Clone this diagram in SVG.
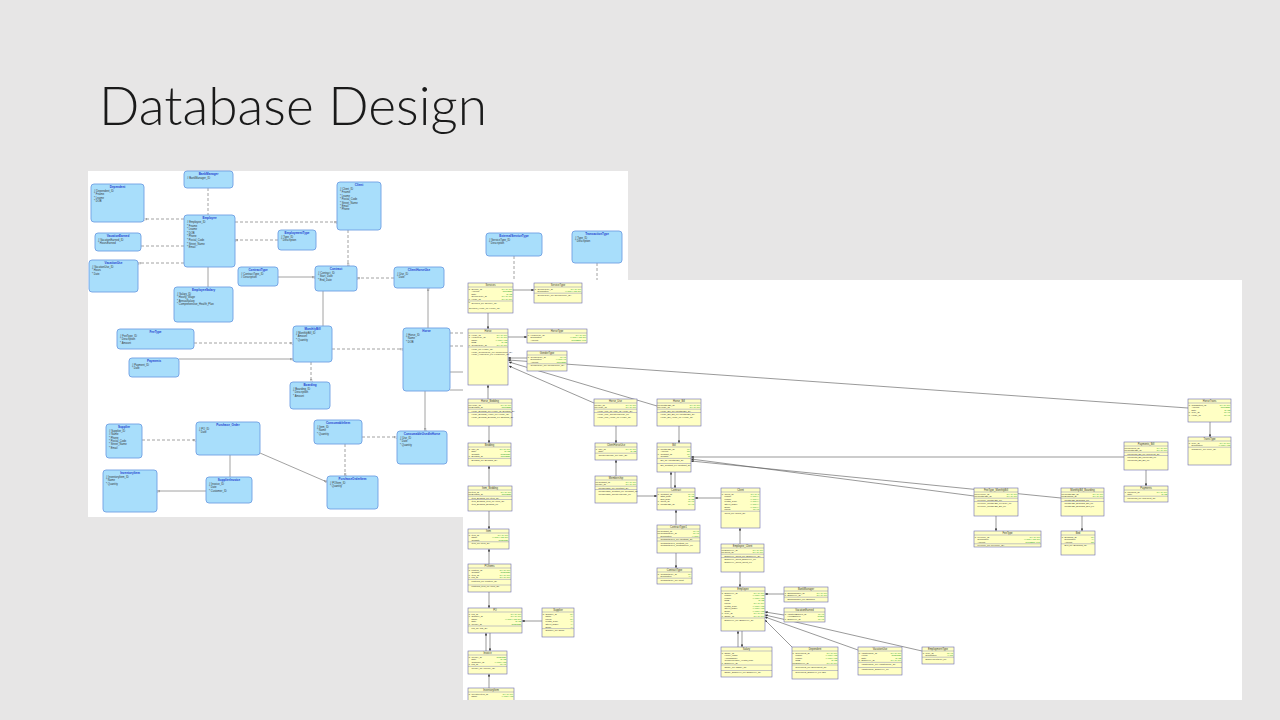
<svg xmlns="http://www.w3.org/2000/svg" width="1280" height="720" viewBox="0 0 1280 720">
<defs>
<style>
.lb{fill:#a8defb;stroke:#6f9fe3;stroke-width:.9}
.lt{font:bold 3px 'Liberation Sans',sans-serif;fill:#2340d0;text-anchor:middle}
.la{font:2.7px 'Liberation Sans',sans-serif;fill:#333}
.ld{fill:none;stroke:#8a8a8a;stroke-width:.8;stroke-dasharray:3 2}
.ls{fill:none;stroke:#8a8a8a;stroke-width:.8}
.rb{fill:#ffffc4;stroke:#6b6bb0;stroke-width:.6}
.rh{stroke:#6b6bb0;stroke-width:.4;fill:none}
.rt{font:2.6px 'Liberation Sans',sans-serif;fill:#333;text-anchor:middle}
.ra{font:2.2px 'Liberation Sans',sans-serif;fill:#333}
.rg{font:2.2px 'Liberation Sans',sans-serif;fill:#2fa82f;text-anchor:end}
.rc{fill:none;stroke:#555;stroke-width:.6}
</style>
<marker id="arr" viewBox="0 0 6 6" refX="6" refY="3" markerWidth="2.6" markerHeight="2.6" markerUnits="userSpaceOnUse" orient="auto"><path d="M0,0L6,3L0,6z" fill="#333"/></marker>
<marker id="cf" viewBox="0 0 6 6" refX="6" refY="3" markerWidth="3" markerHeight="3" markerUnits="userSpaceOnUse" orient="auto"><path d="M6,0L0,3L6,6M0,0V6" fill="none" stroke="#777" stroke-width=".8"/></marker>
<clipPath id="rclip"><rect x="463" y="280" width="779" height="420"/></clipPath>
</defs>
<rect width="1280" height="720" fill="#e7e6e6"/>
<text x="99" y="125" font-family="Lato,'Open Sans','Liberation Sans',sans-serif" font-weight="300" font-size="53" fill="#1a1a1a" textLength="388" lengthAdjust="spacingAndGlyphs">Database Design</text>

<g id="left-diagram">
<rect x="88" y="171" width="540" height="346" fill="#fff"/>
<g id="left-connectors">
<path class="ld" d="M208,188V215"/>
<path class="ld" d="M184,219H144" marker-end="url(#cf)"/>
<path class="ld" d="M141,246H184"/>
<path class="ld" d="M184,263H138" marker-end="url(#cf)"/>
<path class="ld" d="M235,222H337" marker-end="url(#cf)"/>
<path class="ld" d="M278,240H235" marker-end="url(#cf)"/>
<path class="ls" d="M208,267V287"/>
<path class="ld" d="M348,230V266" marker-end="url(#cf)"/>
<path class="ls" d="M278,277H315" marker-end="url(#cf)"/>
<path class="ld" d="M394,278H357" marker-end="url(#cf)"/>
<path class="ls" d="M323,291V326"/>
<path class="ls" d="M428,328V288" marker-end="url(#cf)"/>
<path class="ld" d="M194,343H293" marker-end="url(#cf)"/>
<path class="ls" d="M179,359H293" marker-end="url(#cf)"/>
<path class="ld" d="M332,349H403" marker-end="url(#cf)"/>
<path class="ld" d="M311,362V382" marker-end="url(#cf)"/>
<path class="ls" d="M425,391V431" marker-end="url(#cf)"/>
<path class="ld" d="M362,437H397" marker-end="url(#cf)"/>
<path class="ld" d="M345,444V476" marker-end="url(#cf)"/>
<path class="ld" d="M142,440H196" marker-end="url(#cf)"/>
<path class="ls" d="M230,455V477"/>
<path class="ls" d="M260,453L327,482" marker-end="url(#cf)"/>
<path class="ls" d="M206,491H157" marker-end="url(#cf)"/>
<path class="ld" d="M450,333H470"/>
<path class="ld" d="M450,346H470"/>
<path class="ls" d="M450,372H470"/>
<path class="ls" d="M450,390H470"/>
<path class="ld" d="M514,256V282"/>
<path class="ld" d="M597,263V282"/>
</g>
<g id="l-bankmanager"><rect class="lb" x="184" y="171" width="49" height="17" rx="3"/><text class="lt" x="208.5" y="175">BankManager</text><text class="la" x="187" y="179">#  BankManager_ID</text></g>
<g id="l-dependent"><rect class="lb" x="91" y="184" width="53" height="38" rx="3"/><text class="lt" x="117.5" y="188">Dependent</text><text class="la" x="94" y="192">#  Dependent_ID<tspan x="94" dy="3.4">*  Fname</tspan><tspan x="94" dy="3.4">*  Lname</tspan><tspan x="94" dy="3.4">*  DOB</tspan></text></g>
<g id="l-employee"><rect class="lb" x="184" y="215" width="51" height="52" rx="3"/><text class="lt" x="209.5" y="219">Employee</text><text class="la" x="187" y="223">#  Employee_ID<tspan x="187" dy="3.6">*  Fname</tspan><tspan x="187" dy="3.6">*  Lname</tspan><tspan x="187" dy="3.6">*  DOB</tspan><tspan x="187" dy="3.6">*  Phone</tspan><tspan x="187" dy="3.6">*  Postal_Code</tspan><tspan x="187" dy="3.6">*  Street_Name</tspan><tspan x="187" dy="3.6">*  Email</tspan></text></g>
<g id="l-vacationearned"><rect class="lb" x="95" y="233" width="46" height="18" rx="3"/><text class="lt" x="118" y="237">VacationEarned</text><text class="la" x="98" y="241">#  VacationEarned_ID<tspan x="98" dy="3.4">*  HoursEarned</tspan></text></g>
<g id="l-vacationuse"><rect class="lb" x="89" y="260" width="49" height="32" rx="3"/><text class="lt" x="113.5" y="264">VacationUse</text><text class="la" x="92" y="268">#  VacationUse_ID<tspan x="92" dy="3.4">*  Hours</tspan><tspan x="92" dy="3.4">*  Date</tspan></text></g>
<g id="l-employmenttype"><rect class="lb" x="278" y="230" width="38" height="20" rx="3"/><text class="lt" x="297" y="234">EmploymentType</text><text class="la" x="281" y="238">#  Type_ID<tspan x="281" dy="3.4">*  Description</tspan></text></g>
<g id="l-client"><rect class="lb" x="337" y="182" width="44" height="48" rx="3"/><text class="lt" x="359" y="186">Client</text><text class="la" x="340" y="190">#  Client_ID<tspan x="340" dy="3.4">*  Fname</tspan><tspan x="340" dy="3.4">*  Lname</tspan><tspan x="340" dy="3.4">*  Postal_Code</tspan><tspan x="340" dy="3.4">*  Street_Name</tspan><tspan x="340" dy="3.4">*  Email</tspan><tspan x="340" dy="3.4">*  Phone</tspan></text></g>
<g id="l-contracttype"><rect class="lb" x="238" y="267" width="40" height="19" rx="3"/><text class="lt" x="258" y="271">ContractType</text><text class="la" x="241" y="275">#  ContractType_ID<tspan x="241" dy="3.4">#  Description</tspan></text></g>
<g id="l-contract"><rect class="lb" x="315" y="266" width="42" height="25" rx="3"/><text class="lt" x="336" y="270">Contract</text><text class="la" x="318" y="274">#  Contract_ID<tspan x="318" dy="3.4">*  Start_Date</tspan><tspan x="318" dy="3.4">*  End_Date</tspan></text></g>
<g id="l-employeesalary"><rect class="lb" x="174" y="287" width="59" height="35" rx="3"/><text class="lt" x="203.5" y="291">EmployeeSalary</text><text class="la" x="177" y="295">#  Salary_ID<tspan x="177" dy="3.4">*  Hourly_Wage</tspan><tspan x="177" dy="3.4">*  AnnualSalary</tspan><tspan x="177" dy="3.4">*  Comprehensive_Health_Plan</tspan></text></g>
<g id="l-feetype"><rect class="lb" x="117" y="329" width="77" height="20" rx="3"/><text class="lt" x="155.5" y="333">FeeType</text><text class="la" x="120" y="337">#  FeeType_ID<tspan x="120" dy="3.4">*  Description</tspan><tspan x="120" dy="3.4">*  Amount</tspan></text></g>
<g id="l-monthlybill"><rect class="lb" x="293" y="326" width="39" height="36" rx="3"/><text class="lt" x="312.5" y="330">MonthlyBill</text><text class="la" x="296" y="334">#  MonthlyBill_ID<tspan x="296" dy="3.4">*  Amount</tspan><tspan x="296" dy="3.4">*  Quantity</tspan></text></g>
<g id="l-externalservicetype"><rect class="lb" x="486" y="233" width="56" height="23" rx="3"/><text class="lt" x="514" y="237">ExternalServiceType</text><text class="la" x="489" y="241">#  ServiceType_ID<tspan x="489" dy="3.4">*  Description</tspan></text></g>
<g id="l-transactiontype"><rect class="lb" x="572" y="231" width="50" height="32" rx="3"/><text class="lt" x="597" y="235">TransactionType</text><text class="la" x="575" y="239">#  Type_ID<tspan x="575" dy="3.4">*  Description</tspan></text></g>
<g id="l-clienthorseuse"><rect class="lb" x="394" y="267" width="50" height="21" rx="3"/><text class="lt" x="419" y="271">ClientHorseUse</text><text class="la" x="397" y="275">#  Use_ID<tspan x="397" dy="3.4">*  Date</tspan></text></g>
<g id="l-horse"><rect class="lb" x="403" y="328" width="47" height="63" rx="3"/><text class="lt" x="426.5" y="332">Horse</text><text class="la" x="406" y="336">#  Horse_ID<tspan x="406" dy="3.4">*  Name</tspan><tspan x="406" dy="3.4">*  DOB</tspan></text></g>
<g id="l-payment"><rect class="lb" x="129" y="358" width="50" height="19" rx="3"/><text class="lt" x="154" y="362">Payments</text><text class="la" x="132" y="366">#  Payment_ID<tspan x="132" dy="3.4">*  Date</tspan></text></g>
<g id="l-boarding"><rect class="lb" x="290" y="382" width="40" height="27" rx="3"/><text class="lt" x="310" y="386">Boarding</text><text class="la" x="293" y="390">#  Boarding_ID<tspan x="293" dy="3.4">*  Description</tspan><tspan x="293" dy="3.4">*  Amount</tspan></text></g>
<g id="l-supplier"><rect class="lb" x="106" y="424" width="36" height="34" rx="3"/><text class="lt" x="124" y="428">Supplier</text><text class="la" x="109" y="432">#  Supplier_ID<tspan x="109" dy="3.3">#  Name</tspan><tspan x="109" dy="3.3">*  Phone</tspan><tspan x="109" dy="3.3">*  Postal_Code</tspan><tspan x="109" dy="3.3">*  Street_Name</tspan><tspan x="109" dy="3.3">*  Email</tspan></text></g>
<g id="l-purchaseorder"><rect class="lb" x="196" y="422" width="64" height="33" rx="3"/><text class="lt" x="228" y="426">Purchase_Order</text><text class="la" x="199" y="430">#  PO_ID<tspan x="199" dy="3.4">*  Date</tspan></text></g>
<g id="l-consumableitem"><rect class="lb" x="314" y="420" width="48" height="24" rx="3"/><text class="lt" x="338" y="424">ConsumableItem</text><text class="la" x="317" y="428">#  Item_ID<tspan x="317" dy="3.4">*  Name</tspan><tspan x="317" dy="3.4">*  Quantity</tspan></text></g>
<g id="l-consumableused"><rect class="lb" x="397" y="431" width="50" height="33" rx="3"/><text class="lt" x="422" y="435">ConsumableUsedInHorse</text><text class="la" x="400" y="439">#  Use_ID<tspan x="400" dy="3.4">*  Date</tspan><tspan x="400" dy="3.4">*  Quantity</tspan></text></g>
<g id="l-inventoryitem"><rect class="lb" x="103" y="470" width="54" height="42" rx="3"/><text class="lt" x="130" y="474">InventoryItem</text><text class="la" x="106" y="478">#  InventoryItem_ID<tspan x="106" dy="3.4">*  Name</tspan><tspan x="106" dy="3.4">*  Quantity</tspan></text></g>
<g id="l-supplierinvoice"><rect class="lb" x="206" y="477" width="46" height="26" rx="3"/><text class="lt" x="229" y="481">SupplierInvoice</text><text class="la" x="209" y="485">#  Invoice_ID<tspan x="209" dy="3.4">*  Date</tspan><tspan x="209" dy="3.4">*  Customer_ID</tspan></text></g>
<g id="l-purchaseorderitem"><rect class="lb" x="327" y="476" width="51" height="33" rx="3"/><text class="lt" x="352.5" y="480">PurchaseOrderItem</text><text class="la" x="330" y="484">#  POItem_ID<tspan x="330" dy="3.4">*  Quantity</tspan></text></g>
</g>

<g id="right-diagram" clip-path="url(#rclip)">
<rect x="463" y="280" width="779" height="420" fill="#fff"/>
<g id="right-connectors">
<path class="rc" d="M488,313V329" marker-end="url(#arr)"/>
<path class="rc" d="M513,290H534" marker-end="url(#arr)"/>
<path class="rc" d="M508,337H527" marker-end="url(#arr)"/>
<path class="rc" d="M527,358H508" marker-end="url(#arr)"/>
<path class="rc" d="M1188,408L508,360" marker-end="url(#arr)"/>
<path class="rc" d="M594,403L509,366" marker-end="url(#arr)"/>
<path class="rc" d="M657,406L509,362" marker-end="url(#arr)"/>
<path class="rc" d="M488,399V385" marker-end="url(#arr)"/>
<path class="rc" d="M489,426V443" marker-end="url(#arr)"/>
<path class="rc" d="M489,486V466" marker-end="url(#arr)"/>
<path class="rc" d="M489,511V529" marker-end="url(#arr)"/>
<path class="rc" d="M489,564V549" marker-end="url(#arr)"/>
<path class="rc" d="M489,592V608" marker-end="url(#arr)"/>
<path class="rc" d="M486,651V633" marker-end="url(#arr)"/>
<path class="rc" d="M490,633V651" marker-end="url(#arr)"/>
<path class="rc" d="M489,688V674" marker-end="url(#arr)"/>
<path class="rc" d="M542,621H522" marker-end="url(#arr)"/>
<path class="rc" d="M616,426V443" marker-end="url(#arr)"/>
<path class="rc" d="M616,476V460" marker-end="url(#arr)"/>
<path class="rc" d="M679,426V443" marker-end="url(#arr)"/>
<path class="rc" d="M671,488V472" marker-end="url(#arr)"/>
<path class="rc" d="M675,472V488" marker-end="url(#arr)"/>
<path class="rc" d="M637,496H657" marker-end="url(#arr)"/>
<path class="rc" d="M721,498H695" marker-end="url(#arr)"/>
<path class="rc" d="M676,525V510" marker-end="url(#arr)"/>
<path class="rc" d="M676,553V568" marker-end="url(#arr)"/>
<path class="rc" d="M740,544V528" marker-end="url(#arr)"/>
<path class="rc" d="M740,572V587" marker-end="url(#arr)"/>
<path class="rc" d="M738,647V631" marker-end="url(#arr)"/>
<path class="rc" d="M742,631V647" marker-end="url(#arr)"/>
<path class="rc" d="M784,594H765" marker-end="url(#arr)"/>
<path class="rc" d="M784,615L765,612" marker-end="url(#arr)"/>
<path class="rc" d="M792,647L765,620" marker-end="url(#arr)"/>
<path class="rc" d="M858,650L765,617" marker-end="url(#arr)"/>
<path class="rc" d="M922,651L765,615" marker-end="url(#arr)"/>
<path class="rc" d="M1124,457H691" marker-end="url(#arr)"/>
<path class="rc" d="M974,496L691,459" marker-end="url(#arr)"/>
<path class="rc" d="M1061,498L691,461" marker-end="url(#arr)"/>
<path class="rc" d="M996,516V531" marker-end="url(#arr)"/>
<path class="rc" d="M1082,516V531" marker-end="url(#arr)"/>
<path class="rc" d="M1146,470V486" marker-end="url(#arr)"/>
<path class="rc" d="M1210,422V437" marker-end="url(#arr)"/>
</g>

<g id="r-services"><rect class="rb" x="468" y="283" width="45" height="30"/><text class="rt" x="490.5" y="286.1">Services</text><path class="rh" d="M468,287h45M468,301h45"/>
<text class="ra" x="468.8" y="289.6">P<tspan x="468.8" dy="10.4">F</tspan><tspan x="468.8" dy="2.6">F</tspan></text>
<text class="ra" x="471.5" y="289.6">Service_ID<tspan x="471.5" dy="2.6">Amount</tspan><tspan x="471.5" dy="2.6">Date</tspan><tspan x="471.5" dy="2.6">ServiceType_ID</tspan><tspan x="471.5" dy="2.6">Horse_ID</tspan></text>
<text class="rg" x="512.2" y="289.6">CHAR (10)<tspan x="512.2" dy="2.6">NUMBER</tspan><tspan x="512.2" dy="2.6">DATE</tspan><tspan x="512.2" dy="2.6">CHAR (10)</tspan><tspan x="512.2" dy="2.6">CHAR (10)</tspan></text>
<text class="ra" x="471.5" y="303.5">Services_PK (Service_ID)<tspan x="469" dy="5">Services_Horse_FK (Horse_ID)</tspan></text></g>

<g id="r-servicetype"><rect class="rb" x="534" y="283" width="48" height="20"/><text class="rt" x="558" y="286.1">ServiceType</text><path class="rh" d="M534,287h48M534,293.2h48"/>
<text class="ra" x="534.8" y="289.6">P</text>
<text class="ra" x="537.5" y="289.6">ServiceType_ID<tspan x="537.5" dy="2.6">Description</tspan></text>
<text class="rg" x="581.2" y="289.6">CHAR (10)<tspan x="581.2" dy="2.6">VARCHAR2 (50)</tspan></text>
<text class="ra" x="537.5" y="295.7">ServiceType_PK (ServiceType_ID)</text></g>

<g id="r-horse"><rect class="rb" x="468" y="329" width="40" height="56"/><text class="rt" x="488" y="332.1">Horse</text><path class="rh" d="M468,333h40M468,347h40"/>
<text class="ra" x="468.8" y="335.6">P<tspan x="468.8" dy="2.6">F</tspan><tspan x="468.8" dy="7.8">F</tspan></text>
<text class="ra" x="471.5" y="335.6">Horse_ID<tspan x="471.5" dy="2.6">HorseType_ID</tspan><tspan x="471.5" dy="2.6">Name</tspan><tspan x="471.5" dy="2.6">DOB</tspan><tspan x="471.5" dy="2.6">GenderType_ID</tspan></text>
<text class="rg" x="507.2" y="335.6">CHAR (10)<tspan x="507.2" dy="2.6">CHAR (10)</tspan><tspan x="507.2" dy="2.6">VARCHAR2</tspan><tspan x="507.2" dy="2.6">DATE</tspan><tspan x="507.2" dy="2.6">CHAR (10)</tspan></text>
<text class="ra" x="471.5" y="349.5">Horse_PK (Horse_ID)<tspan x="471.5" dy="3">Horse_GenderType_FK (GenderType_ID)</tspan><tspan x="471.5" dy="2.6">Horse_HorseType_FK (HorseType_ID)</tspan></text></g>

<g id="r-horsetype"><rect class="rb" x="527" y="329" width="60" height="14"/><text class="rt" x="557" y="332.1">HorseType</text><path class="rh" d="M527,333h60"/>
<text class="ra" x="527.8" y="335.6">P</text>
<text class="ra" x="530.5" y="335.6">HorseType_ID<tspan x="530.5" dy="2.6">Description</tspan><tspan x="530.5" dy="2.6">Amount</tspan></text>
<text class="rg" x="586.2" y="335.6">CHAR (10)<tspan x="586.2" dy="2.6">VARCHAR2 (50)</tspan><tspan x="586.2" dy="2.6">NUMBER (8,2)</tspan></text></g>

<g id="r-gendertype"><rect class="rb" x="527" y="351" width="40" height="20"/><text class="rt" x="547" y="354.1">GenderType</text><path class="rh" d="M527,355h40M527,363.8h40"/>
<text class="ra" x="527.8" y="357.6">P</text>
<text class="ra" x="530.5" y="357.6">GenderType_ID<tspan x="530.5" dy="2.6">Description</tspan><tspan x="530.5" dy="2.6">Amount</tspan></text>
<text class="rg" x="566.2" y="357.6">CHAR<tspan x="566.2" dy="2.6">VARCHAR</tspan><tspan x="566.2" dy="2.6">NUMBER</tspan></text>
<text class="ra" x="530.5" y="366.3">GenderType_PK (GenderType_ID)</text></g>

<g id="r-horse-bedding"><rect class="rb" x="468" y="399" width="44" height="27"/><text class="rt" x="490" y="402.1">Horse_Bedding</text><path class="rh" d="M468,403h44M468,409.2h44M468,412.5h44"/>
<text class="ra" x="468.6" y="405.6">PF<tspan x="468.6" dy="2.6">PF</tspan></text>
<text class="ra" x="471.5" y="405.6">Horse_ID<tspan x="471.5" dy="2.6">Bedding_ID</tspan></text>
<text class="rg" x="511.2" y="405.6">CHAR (10)<tspan x="511.2" dy="2.6">NUMBER</tspan></text>
<text class="ra" x="471.5" y="411.7">Horse_Bedding_PK (Horse_ID, Bedding_ID)<tspan x="471.5" dy="3.3">Horse_Bedding_Horse_FK (Horse_ID)</tspan><tspan x="471.5" dy="2.6">Horse_Bedding_Bedding_FK (Bedding_ID)</tspan></text></g>

<g id="r-horse-use"><rect class="rb" x="594" y="399" width="43" height="27"/><text class="rt" x="615.5" y="402.1">Horse_Use</text><path class="rh" d="M594,403h43M594,409.2h43M594,412.5h43"/>
<text class="ra" x="594.6" y="405.6">PF<tspan x="594.6" dy="2.6">PF</tspan></text>
<text class="ra" x="597.5" y="405.6">Use_ID<tspan x="597.5" dy="2.6">Horse_ID</tspan></text>
<text class="rg" x="636.2" y="405.6">CHAR (10)<tspan x="636.2" dy="2.6">CHAR (10)</tspan></text>
<text class="ra" x="597.5" y="411.7">Horse_Use_PK (Use_ID, Horse_ID)<tspan x="597.5" dy="3.3">Horse_Use_ClientHorseUse_FK</tspan><tspan x="597.5" dy="2.6">Horse_Use_Horse_FK (Horse_ID)</tspan></text></g>

<g id="r-horse-bill"><rect class="rb" x="657" y="399" width="44" height="27"/><text class="rt" x="679" y="402.1">Horse_Bill</text><path class="rh" d="M657,403h44M657,409.2h44M657,412.5h44"/>
<text class="ra" x="657.6" y="405.6">PF<tspan x="657.6" dy="2.6">PF</tspan></text>
<text class="ra" x="660.5" y="405.6">MonthlyBill_ID<tspan x="660.5" dy="2.6">Horse_ID</tspan></text>
<text class="rg" x="700.2" y="405.6">CHAR (10)<tspan x="700.2" dy="2.6">CHAR (10)</tspan></text>
<text class="ra" x="660.5" y="411.7">Horse_Bill_PK (MonthlyBill_ID)<tspan x="660.5" dy="3.3">Horse_Bill_Bill_FK (MonthlyBill_ID)</tspan><tspan x="660.5" dy="2.6">Horse_Bill_Horse_FK (Horse_ID)</tspan></text></g>

<g id="r-bedding"><rect class="rb" x="468" y="443" width="43" height="23"/><text class="rt" x="489.5" y="446.1">Bedding</text><path class="rh" d="M468,447h43M468,458.4h43"/>
<text class="ra" x="468.8" y="449.6">P<tspan x="468.8" dy="7.8">F</tspan></text>
<text class="ra" x="471.5" y="449.6">Use_ID<tspan x="471.5" dy="2.6">Date</tspan><tspan x="471.5" dy="2.6">Quantity</tspan><tspan x="471.5" dy="2.6">Bedding_ID</tspan></text>
<text class="rg" x="510.2" y="449.6">CHAR (10)<tspan x="510.2" dy="2.6">DATE</tspan><tspan x="510.2" dy="2.6">INTEGER</tspan><tspan x="510.2" dy="2.6">NUMBER</tspan></text>
<text class="ra" x="471.5" y="460.9">Bedding_PK (Bedding_ID)</text></g>

<g id="r-item-bedding"><rect class="rb" x="468" y="486" width="44" height="25"/><text class="rt" x="490" y="489.1">Item_Bedding</text><path class="rh" d="M468,490h44M468,496.2h44M468,499.5h44"/>
<text class="ra" x="468.6" y="492.6">PF<tspan x="468.6" dy="2.6">PF</tspan></text>
<text class="ra" x="471.5" y="492.6">Item_ID<tspan x="471.5" dy="2.6">Bedding_ID</tspan></text>
<text class="rg" x="511.2" y="492.6">CHAR (10)<tspan x="511.2" dy="2.6">NUMBER</tspan></text>
<text class="ra" x="471.5" y="498.7">Item_Bedding_PK (Item_ID)<tspan x="471.5" dy="3.3">Item_Bedding_Item_FK (Item_ID)</tspan><tspan x="471.5" dy="2.6">Item_Bedding_Bedding_FK</tspan></text></g>

<g id="r-item"><rect class="rb" x="468" y="529" width="41" height="20"/><text class="rt" x="488.5" y="532.1">Item</text><path class="rh" d="M468,533h41M468,541.8h41"/>
<text class="ra" x="468.8" y="535.6">P</text>
<text class="ra" x="471.5" y="535.6">Item_ID<tspan x="471.5" dy="2.6">Name</tspan><tspan x="471.5" dy="2.6">Quantity</tspan></text>
<text class="rg" x="508.2" y="535.6">CHAR (10)<tspan x="508.2" dy="2.6">VARCHAR2 (50)</tspan><tspan x="508.2" dy="2.6">INTEGER</tspan></text>
<text class="ra" x="471.5" y="544.3">Item_PK (Item_ID)</text></g>

<g id="r-poitems"><rect class="rb" x="468" y="564" width="43" height="28"/><text class="rt" x="489.5" y="567.1">POItems</text><path class="rh" d="M468,568h43M468,579.4h43M468,585h43"/>
<text class="ra" x="468.8" y="570.6">P<tspan x="468.8" dy="5.2">F</tspan><tspan x="468.8" dy="2.6">F</tspan></text>
<text class="ra" x="471.5" y="570.6">POItem_ID<tspan x="471.5" dy="2.6">Quantity</tspan><tspan x="471.5" dy="2.6">Item_ID</tspan><tspan x="471.5" dy="2.6">PO_ID</tspan></text>
<text class="rg" x="510.2" y="570.6">CHAR (10)<tspan x="510.2" dy="2.6">INTEGER</tspan><tspan x="510.2" dy="2.6">CHAR (10)</tspan><tspan x="510.2" dy="2.6">CHAR (10)</tspan></text>
<text class="ra" x="471.5" y="581.9">POItems_PK (POItem_ID)<tspan x="471.5" dy="5.5">POItems_Item_FK (Item_ID)</tspan></text></g>

<g id="r-po"><rect class="rb" x="468" y="608" width="54" height="25"/><text class="rt" x="495" y="611.1">PO</text><path class="rh" d="M468,612h54M468,626h54"/>
<text class="ra" x="468.8" y="614.6">P<tspan x="468.8" dy="2.6">F</tspan><tspan x="468.8" dy="7.8">F</tspan></text>
<text class="ra" x="471.5" y="614.6">PO_ID<tspan x="471.5" dy="2.6">Supplier_ID</tspan><tspan x="471.5" dy="2.6">Name</tspan><tspan x="471.5" dy="2.6">Date</tspan><tspan x="471.5" dy="2.6">Invoice_ID</tspan></text>
<text class="rg" x="521.2" y="614.6">CHAR (10)<tspan x="521.2" dy="2.6">CHAR (10)</tspan><tspan x="521.2" dy="2.6">VARCHAR2 (50)</tspan><tspan x="521.2" dy="2.6">DATE</tspan><tspan x="521.2" dy="2.6">INTEGER</tspan></text>
<text class="ra" x="471.5" y="628.5">PO_PK (PO_ID)</text></g>

<g id="r-supplier"><rect class="rb" x="542" y="608" width="32" height="29"/><text class="rt" x="558" y="611.1">Supplier</text><path class="rh" d="M542,612h32M542,628.6h32"/>
<text class="ra" x="542.8" y="614.6">P</text>
<text class="ra" x="545.5" y="614.6">Supplier_ID<tspan x="545.5" dy="2.6">Name</tspan><tspan x="545.5" dy="2.6">Phone</tspan><tspan x="545.5" dy="2.6">Postal_Code</tspan><tspan x="545.5" dy="2.6">Street_Name</tspan><tspan x="545.5" dy="2.6">Email</tspan></text>
<text class="rg" x="573.2" y="614.6">CH<tspan x="573.2" dy="2.6">VA</tspan><tspan x="573.2" dy="2.6">CH</tspan><tspan x="573.2" dy="2.6">VA</tspan><tspan x="573.2" dy="2.6">VA</tspan><tspan x="573.2" dy="2.6">VA</tspan></text>
<text class="ra" x="545.5" y="631.1">Supplier_PK (Supp</text></g>

<g id="r-invoice"><rect class="rb" x="468" y="651" width="39" height="23"/><text class="rt" x="487.5" y="654.1">Invoice</text><path class="rh" d="M468,655h39M468,666.4h39"/>
<text class="ra" x="468.8" y="657.6">P<tspan x="468.8" dy="7.8">F</tspan></text>
<text class="ra" x="471.5" y="657.6">Invoice_ID<tspan x="471.5" dy="2.6">Date</tspan><tspan x="471.5" dy="2.6">Customer_ID</tspan><tspan x="471.5" dy="2.6">PO_ID</tspan></text>
<text class="rg" x="506.2" y="657.6">INTEGER<tspan x="506.2" dy="2.6">DATE</tspan><tspan x="506.2" dy="2.6">VARCHAR2</tspan><tspan x="506.2" dy="2.6">CHAR</tspan></text>
<text class="ra" x="471.5" y="668.9">Invoice_PK (Invoice_ID)</text></g>

<g id="r-inventoryitem"><rect class="rb" x="468" y="688" width="46" height="20"/><text class="rt" x="491" y="691.1">InventoryItem</text><path class="rh" d="M468,692h46"/>
<text class="ra" x="468.8" y="694.6">P</text>
<text class="ra" x="471.5" y="694.6">InventoryItem_ID<tspan x="471.5" dy="2.6">Name</tspan></text>
<text class="rg" x="513.2" y="694.6">CHAR (10)<tspan x="513.2" dy="2.6">VARCHAR2</tspan></text></g>

<g id="r-clienthorseuse"><rect class="rb" x="595" y="443" width="42" height="17"/><text class="rt" x="616" y="446.1">ClientHorseUse</text><path class="rh" d="M595,447h42M595,453.2h42"/>
<text class="ra" x="595.8" y="449.6">P</text>
<text class="ra" x="598.5" y="449.6">Use_ID<tspan x="598.5" dy="2.6">Date</tspan></text>
<text class="rg" x="636.2" y="449.6">CHAR (10)<tspan x="636.2" dy="2.6">DATE</tspan></text>
<text class="ra" x="598.5" y="455.7">ClientHorseUse_PK (Use_ID)</text></g>

<g id="r-membership"><rect class="rb" x="595" y="476" width="42" height="27"/><text class="rt" x="616" y="479.1">Membership</text><path class="rh" d="M595,480h42M595,486.2h42M595,489.5h42"/>
<text class="ra" x="595.6" y="482.6">PF<tspan x="595.6" dy="2.6">PF</tspan></text>
<text class="ra" x="598.5" y="482.6">Contract_ID<tspan x="598.5" dy="2.6">Use_ID</tspan></text>
<text class="rg" x="636.2" y="482.6">CHAR (10)<tspan x="636.2" dy="2.6">CHAR (10)</tspan></text>
<text class="ra" x="598.5" y="488.7">Membership_PK (Contract_ID)<tspan x="598.5" dy="3.3">Membership_Contract_FK (Contract_ID)</tspan><tspan x="598.5" dy="2.6">Membership_ClientHorseUse_FK</tspan></text></g>

<g id="r-bill"><rect class="rb" x="657" y="443" width="34" height="29"/><text class="rt" x="674" y="446.1">Bill</text><path class="rh" d="M657,447h34M657,458.4h34M657,463.5h34"/>
<text class="ra" x="657.8" y="449.6">P<tspan x="657.8" dy="5.2">F</tspan></text>
<text class="ra" x="660.5" y="449.6">MonthlyBill_ID<tspan x="660.5" dy="2.6">Amount</tspan><tspan x="660.5" dy="2.6">Contract_ID</tspan><tspan x="660.5" dy="2.6">Quantity</tspan></text>
<text class="rg" x="690.2" y="449.6">CH<tspan x="690.2" dy="2.6">NU</tspan><tspan x="690.2" dy="2.6">CH</tspan><tspan x="690.2" dy="2.6">IN</tspan></text>
<text class="ra" x="660.5" y="460.9">Bill_PK (MonthlyBill_ID)<tspan x="660.5" dy="5">Bill_Contract_FK (Contract_ID)</tspan></text></g>

<g id="r-contract"><rect class="rb" x="657" y="488" width="38" height="22"/><text class="rt" x="676" y="491.1">Contract</text><path class="rh" d="M657,492h38"/>
<text class="ra" x="657.8" y="494.6">P<tspan x="657.8" dy="7.8">F</tspan><tspan x="657.8" dy="2.6">F</tspan></text>
<text class="ra" x="660.5" y="494.6">Contract_ID<tspan x="660.5" dy="2.6">Start_Date</tspan><tspan x="660.5" dy="2.6">End_Date</tspan><tspan x="660.5" dy="2.6">Client_ID</tspan><tspan x="660.5" dy="2.6">MonthlyBill_ID</tspan></text>
<text class="rg" x="694.2" y="494.6">CHAR<tspan x="694.2" dy="2.6">DATE</tspan><tspan x="694.2" dy="2.6">DATE</tspan><tspan x="694.2" dy="2.6">CHAR</tspan><tspan x="694.2" dy="2.6">CHAR</tspan></text></g>

<g id="r-client"><rect class="rb" x="721" y="488" width="39" height="40"/><text class="rt" x="740.5" y="491.1">Client</text><path class="rh" d="M721,492h39M721,511.2h39"/>
<text class="ra" x="721.8" y="494.6">P</text>
<text class="ra" x="724.5" y="494.6">Client_ID<tspan x="724.5" dy="2.6">Fname</tspan><tspan x="724.5" dy="2.6">Lname</tspan><tspan x="724.5" dy="2.6">Postal_Code</tspan><tspan x="724.5" dy="2.6">Street_Name</tspan><tspan x="724.5" dy="2.6">Email</tspan><tspan x="724.5" dy="2.6">Phone</tspan></text>
<text class="rg" x="759.2" y="494.6">CHAR (1<tspan x="759.2" dy="2.6">VARCHA</tspan><tspan x="759.2" dy="2.6">VARCHA</tspan><tspan x="759.2" dy="2.6">VARCHA</tspan><tspan x="759.2" dy="2.6">VARCHA</tspan><tspan x="759.2" dy="2.6">VARCHA</tspan><tspan x="759.2" dy="2.6">CHAR</tspan></text>
<text class="ra" x="724.5" y="513.7">Client_PK (Client_ID)</text></g>

<g id="r-contracttype1"><rect class="rb" x="657" y="525" width="43" height="28"/><text class="rt" x="678.5" y="528.1">ContractType1</text><path class="rh" d="M657,529h43M657,537.8h43M657,541h43"/>
<text class="ra" x="657.6" y="531.6">PF<tspan x="657.6" dy="2.6">PF</tspan></text>
<text class="ra" x="660.5" y="531.6">Contract_ID<tspan x="660.5" dy="2.6">ContractType_ID</tspan><tspan x="660.5" dy="2.6">Description</tspan></text>
<text class="rg" x="699.2" y="531.6">CHAR<tspan x="699.2" dy="2.6">CHAR</tspan><tspan x="699.2" dy="2.6">VARCH</tspan></text>
<text class="ra" x="660.5" y="540.3">ContractType1_PK (Contract_ID)<tspan x="660.5" dy="3.3">ContractType1_Contract_FK</tspan><tspan x="660.5" dy="2.6">ContractType1_ContractType_FK</tspan></text></g>

<g id="r-contracttype"><rect class="rb" x="657" y="568" width="35" height="16"/><text class="rt" x="674.5" y="571.1">ContractType</text><path class="rh" d="M657,572h35M657,578.2h35"/>
<text class="ra" x="657.8" y="574.6">P</text>
<text class="ra" x="660.5" y="574.6">ContractType_ID<tspan x="660.5" dy="2.6">Description</tspan></text>
<text class="rg" x="691.2" y="574.6">CH<tspan x="691.2" dy="2.6">VA</tspan></text>
<text class="ra" x="660.5" y="580.7">ContractType_PK (Cont</text></g>

<g id="r-employee-client"><rect class="rb" x="721" y="544" width="43" height="28"/><text class="rt" x="742.5" y="547.1">Employee_Client</text><path class="rh" d="M721,548h43M721,554.2h43M721,557.5h43"/>
<text class="ra" x="721.6" y="550.6">PF<tspan x="721.6" dy="2.6">PF</tspan></text>
<text class="ra" x="724.5" y="550.6">Employee_ID<tspan x="724.5" dy="2.6">Client_ID</tspan></text>
<text class="rg" x="763.2" y="550.6">CHAR (10)<tspan x="763.2" dy="2.6">CHAR (10)</tspan></text>
<text class="ra" x="724.5" y="556.7">Employee_Client_PK (Employee_ID)<tspan x="724.5" dy="3.3">Employee_Client_Employee_FK</tspan><tspan x="724.5" dy="2.6">Employee_Client_Client_FK</tspan></text></g>

<g id="r-employee"><rect class="rb" x="721" y="587" width="44" height="44"/><text class="rt" x="743" y="590.1">Employee</text><path class="rh" d="M721,591h44M721,618h44"/>
<text class="ra" x="721.8" y="593.6">P<tspan x="721.8" dy="20.8">F</tspan><tspan x="721.8" dy="2.6">F</tspan></text>
<text class="ra" x="724.5" y="593.6">Employee_ID<tspan x="724.5" dy="2.6">Fname</tspan><tspan x="724.5" dy="2.6">Lname</tspan><tspan x="724.5" dy="2.6">DOB</tspan><tspan x="724.5" dy="2.6">Phone</tspan><tspan x="724.5" dy="2.6">Postal_Code</tspan><tspan x="724.5" dy="2.6">Street_Name</tspan><tspan x="724.5" dy="2.6">Email</tspan><tspan x="724.5" dy="2.6">Type_ID</tspan><tspan x="724.5" dy="2.6">Salary_ID</tspan></text>
<text class="rg" x="764.2" y="593.6">CHAR (10)<tspan x="764.2" dy="2.6">VARCHAR2</tspan><tspan x="764.2" dy="2.6">VARCHAR2</tspan><tspan x="764.2" dy="2.6">DATE</tspan><tspan x="764.2" dy="2.6">CHAR (10)</tspan><tspan x="764.2" dy="2.6">VARCHAR2</tspan><tspan x="764.2" dy="2.6">VARCHAR2</tspan><tspan x="764.2" dy="2.6">VARCHAR2</tspan><tspan x="764.2" dy="2.6">CHAR (10)</tspan><tspan x="764.2" dy="2.6">CHAR (10)</tspan></text>
<text class="ra" x="724.5" y="620.5">Employee_PK (Employee_ID)</text></g>

<g id="r-salary"><rect class="rb" x="721" y="647" width="51" height="30"/><text class="rt" x="746.5" y="650.1">Salary</text><path class="rh" d="M721,651h51M721,665h51M721,670.5h51"/>
<text class="ra" x="721.8" y="653.6">P<tspan x="721.8" dy="10.4">F</tspan></text>
<text class="ra" x="724.5" y="653.6">Salary_ID<tspan x="724.5" dy="2.6">Hourly_Wage</tspan><tspan x="724.5" dy="2.6">AnnualSalary</tspan><tspan x="724.5" dy="2.6">Comprehensive_Health_Plan</tspan><tspan x="724.5" dy="2.6">Employee_ID</tspan></text>
<text class="ra" x="724.5" y="667.5">Salary_PK (Salary_ID)<tspan x="724.5" dy="5.5">Salary_Employee_FK (Employee_ID)</tspan></text></g>

<g id="r-bankmanager"><rect class="rb" x="784" y="587" width="44" height="15"/><text class="rt" x="806" y="590.1">BankManager</text><path class="rh" d="M784,591h44M784,597.2h44"/>
<text class="ra" x="784.8" y="593.6">P<tspan x="784.8" dy="2.6">F</tspan></text>
<text class="ra" x="787.5" y="593.6">BankManager_ID<tspan x="787.5" dy="2.6">Employee_ID</tspan></text>
<text class="rg" x="827.2" y="593.6">CHAR (10)<tspan x="827.2" dy="2.6">CHAR (10)</tspan></text>
<text class="ra" x="787.5" y="599.7">BankManager_PK (BankMa</text></g>

<g id="r-vacationearned"><rect class="rb" x="784" y="608" width="41" height="14"/><text class="rt" x="804.5" y="611.1">VacationEarned</text><path class="rh" d="M784,612h41"/>
<text class="ra" x="784.8" y="614.6">P<tspan x="784.8" dy="5.2">F</tspan></text>
<text class="ra" x="787.5" y="614.6">VacationEarned_ID<tspan x="787.5" dy="2.6">HoursEarned</tspan><tspan x="787.5" dy="2.6">Employee_ID</tspan></text>
<text class="rg" x="824.2" y="614.6">CHAR<tspan x="824.2" dy="2.6">INTEG</tspan><tspan x="824.2" dy="2.6">CHAR</tspan></text></g>

<g id="r-dependent"><rect class="rb" x="792" y="647" width="46" height="32"/><text class="rt" x="815" y="650.1">Dependent</text><path class="rh" d="M792,651h46M792,665h46M792,670.5h46"/>
<text class="ra" x="792.6" y="653.6">P<tspan x="792.6" dy="10.4">PF</tspan></text>
<text class="ra" x="795.5" y="653.6">Dependent_ID<tspan x="795.5" dy="2.6">Fname</tspan><tspan x="795.5" dy="2.6">Lname</tspan><tspan x="795.5" dy="2.6">DOB</tspan><tspan x="795.5" dy="2.6">Employee_ID</tspan></text>
<text class="rg" x="837.2" y="653.6">CHAR (10)<tspan x="837.2" dy="2.6">VARCHAR2</tspan><tspan x="837.2" dy="2.6">VARCHAR2</tspan><tspan x="837.2" dy="2.6">DATE</tspan><tspan x="837.2" dy="2.6">CHAR (10)</tspan></text>
<text class="ra" x="795.5" y="667.5">Dependent_PK (Dependent_ID)<tspan x="795.5" dy="5.5">Dependent_Employee_FK (Em</tspan></text></g>

<g id="r-vacationuse"><rect class="rb" x="858" y="647" width="44" height="28"/><text class="rt" x="880" y="650.1">VacationUse</text><path class="rh" d="M858,651h44M858,662.4h44M858,667.5h44"/>
<text class="ra" x="858.8" y="653.6">P<tspan x="858.8" dy="7.8">F</tspan></text>
<text class="ra" x="861.5" y="653.6">VacationUse_ID<tspan x="861.5" dy="2.6">Hours</tspan><tspan x="861.5" dy="2.6">Date</tspan><tspan x="861.5" dy="2.6">Employee_ID</tspan></text>
<text class="rg" x="901.2" y="653.6">CHAR (10)<tspan x="901.2" dy="2.6">INTEGER</tspan><tspan x="901.2" dy="2.6">DATE</tspan><tspan x="901.2" dy="2.6">CHAR (10)</tspan></text>
<text class="ra" x="861.5" y="664.9">VacationUse_PK (VacationUse_ID)<tspan x="861.5" dy="5">VacationUse_Employee_FK</tspan></text></g>

<g id="r-employmenttype"><rect class="rb" x="922" y="647" width="32" height="17"/><text class="rt" x="938" y="650.1">EmploymentType</text><path class="rh" d="M922,651h32M922,657.2h32"/>
<text class="ra" x="922.8" y="653.6">P</text>
<text class="ra" x="925.5" y="653.6">Type_ID<tspan x="925.5" dy="2.6">Description</tspan></text>
<text class="rg" x="953.2" y="653.6">CHAR<tspan x="953.2" dy="2.6">VARC</tspan></text>
<text class="ra" x="925.5" y="659.7">EmploymentType_PK</text></g>

<g id="r-horsetrans"><rect class="rb" x="1188" y="399" width="43" height="23"/><text class="rt" x="1209.5" y="402.1">HorseTrans</text><path class="rh" d="M1188,403h43"/>
<text class="ra" x="1188.8" y="405.6">P<tspan x="1188.8" dy="7.8">F</tspan><tspan x="1188.8" dy="2.6">F</tspan></text>
<text class="ra" x="1191.5" y="405.6">Transaction_ID<tspan x="1191.5" dy="2.6">Amount</tspan><tspan x="1191.5" dy="2.6">Date</tspan><tspan x="1191.5" dy="2.6">Type_ID</tspan><tspan x="1191.5" dy="2.6">Horse_ID</tspan></text>
<text class="rg" x="1230.2" y="405.6">CHAR (10)<tspan x="1230.2" dy="2.6">NUMBER</tspan><tspan x="1230.2" dy="2.6">DATE</tspan><tspan x="1230.2" dy="2.6">CHAR</tspan><tspan x="1230.2" dy="2.6">CHAR</tspan></text></g>

<g id="r-transtype"><rect class="rb" x="1188" y="437" width="43" height="28"/><text class="rt" x="1209.5" y="440.1">TransType</text><path class="rh" d="M1188,441h43M1188,447.2h43"/>
<text class="ra" x="1188.8" y="443.6">P</text>
<text class="ra" x="1191.5" y="443.6">Type_ID<tspan x="1191.5" dy="2.6">Description</tspan></text>
<text class="rg" x="1230.2" y="443.6">CHAR (10)<tspan x="1230.2" dy="2.6">VARCHAR2</tspan></text>
<text class="ra" x="1191.5" y="449.7">TransType_PK (Type_ID)</text></g>

<g id="r-payments-bill"><rect class="rb" x="1124" y="442" width="44" height="28"/><text class="rt" x="1146" y="445.1">Payments_Bill</text><path class="rh" d="M1124,446h44M1124,452.2h44M1124,455.5h44"/>
<text class="ra" x="1124.6" y="448.6">PF<tspan x="1124.6" dy="2.6">PF</tspan></text>
<text class="ra" x="1127.5" y="448.6">Payment_ID<tspan x="1127.5" dy="2.6">MonthlyBill_ID</tspan></text>
<text class="rg" x="1167.2" y="448.6">CHAR (10)<tspan x="1167.2" dy="2.6">CHAR (10)</tspan></text>
<text class="ra" x="1127.5" y="454.7">Payments_Bill_PK (Payment_ID)<tspan x="1127.5" dy="3.3">Payments_Bill_Payments_FK</tspan><tspan x="1127.5" dy="2.6">Payments_Bill_Bill_FK</tspan></text></g>

<g id="r-payments"><rect class="rb" x="1124" y="486" width="44" height="16"/><text class="rt" x="1146" y="489.1">Payments</text><path class="rh" d="M1124,490h44M1124,496.2h44"/>
<text class="ra" x="1124.8" y="492.6">P</text>
<text class="ra" x="1127.5" y="492.6">Payment_ID<tspan x="1127.5" dy="2.6">Date</tspan></text>
<text class="rg" x="1167.2" y="492.6">CHAR (10)<tspan x="1167.2" dy="2.6">DATE</tspan></text>
<text class="ra" x="1127.5" y="498.7">Payments_PK (Payment_ID)</text></g>

<g id="r-feetype-monthlybill"><rect class="rb" x="974" y="488" width="44" height="28"/><text class="rt" x="996" y="491.1">FeeType_MonthlyBill</text><path class="rh" d="M974,492h44M974,498.2h44M974,501.5h44"/>
<text class="ra" x="974.6" y="494.6">PF<tspan x="974.6" dy="2.6">PF</tspan></text>
<text class="ra" x="977.5" y="494.6">FeeType_ID<tspan x="977.5" dy="2.6">MonthlyBill_ID</tspan></text>
<text class="rg" x="1017.2" y="494.6">CHAR (10)<tspan x="1017.2" dy="2.6">CHAR (10)</tspan></text>
<text class="ra" x="977.5" y="500.7">FeeType_MonthlyBill_PK<tspan x="977.5" dy="3.3">FeeType_MonthlyBill_FeeType_FK</tspan><tspan x="977.5" dy="2.6">FeeType_MonthlyBill_Bill_FK</tspan></text></g>

<g id="r-monthlybill-boarding"><rect class="rb" x="1061" y="488" width="43" height="28"/><text class="rt" x="1082.5" y="491.1">MonthlyBill_Boarding</text><path class="rh" d="M1061,492h43M1061,498.2h43M1061,501.5h43"/>
<text class="ra" x="1061.6" y="494.6">PF<tspan x="1061.6" dy="2.6">PF</tspan></text>
<text class="ra" x="1064.5" y="494.6">MonthlyBill_ID<tspan x="1064.5" dy="2.6">Boarding_ID</tspan></text>
<text class="rg" x="1103.2" y="494.6">CHAR (10)<tspan x="1103.2" dy="2.6">CHAR (10)</tspan></text>
<text class="ra" x="1064.5" y="500.7">MonthlyBill_Boarding_PK<tspan x="1064.5" dy="3.3">MonthlyBill_Boarding_Bill_FK</tspan><tspan x="1064.5" dy="2.6">MonthlyBill_Boarding_Bed_FK</tspan></text></g>

<g id="r-feetype"><rect class="rb" x="974" y="531" width="67" height="16"/><text class="rt" x="1007.5" y="534.1">FeeType</text><path class="rh" d="M974,535h67M974,543.8h67"/>
<text class="ra" x="974.8" y="537.6">P</text>
<text class="ra" x="977.5" y="537.6">FeeType_ID<tspan x="977.5" dy="2.6">Description</tspan><tspan x="977.5" dy="2.6">Amount</tspan></text>
<text class="rg" x="1040.2" y="537.6">CHAR (10)<tspan x="1040.2" dy="2.6">VARCHAR2 (50)</tspan><tspan x="1040.2" dy="2.6">NUMBER (8,2)</tspan></text>
<text class="ra" x="977.5" y="546.3">FeeType_PK (FeeType_ID)</text></g>

<g id="r-boarding"><rect class="rb" x="1061" y="531" width="34" height="24"/><text class="rt" x="1078" y="534.1">Bed</text><path class="rh" d="M1061,535h34M1061,543.8h34"/>
<text class="ra" x="1061.8" y="537.6">P</text>
<text class="ra" x="1064.5" y="537.6">Boarding_ID<tspan x="1064.5" dy="2.6">Description</tspan><tspan x="1064.5" dy="2.6">Amount</tspan></text>
<text class="rg" x="1094.2" y="537.6">CH<tspan x="1094.2" dy="2.6">VA</tspan><tspan x="1094.2" dy="2.6">NU</tspan></text>
<text class="ra" x="1064.5" y="546.3">Bed_PK (Boarding_ID)</text></g>
</g>
</svg>
